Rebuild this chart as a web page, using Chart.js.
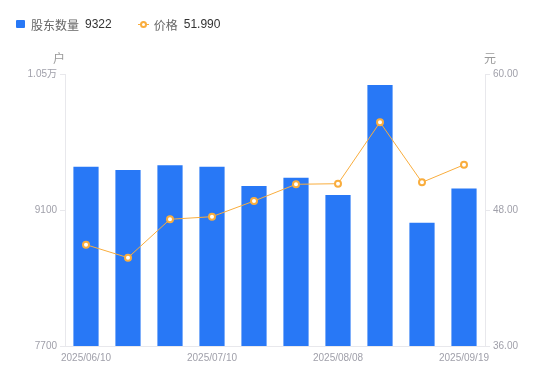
<!DOCTYPE html>
<html>
<head>
<meta charset="utf-8">
<script src="https://cdn.jsdelivr.net/npm/chart.js@4/dist/chart.umd.min.js"></script>
<style>
  html, body { margin: 0; padding: 0; background: #fff; }
  #wrap { position: relative; width: 550px; height: 381px; }
  #legend { position: absolute; left: 16px; top: 15px; font-family: "Liberation Sans", "Noto Sans CJK SC", sans-serif; font-size: 12px; display: flex; align-items: center; height: 18px; }
  .item { display: flex; align-items: center; margin-right: 26px; }
  .sq { width: 9px; height: 8px; background: #2878f6; border-radius: 1px; margin-right: 6px; }
  .ln { position: relative; width: 11px; height: 8px; margin-right: 5px; }
  .ln::before { content: ""; position: absolute; left: 0; right: 0; top: 3.5px; height: 1.5px; background: #f9ad3d; }
  .ln::after { content: ""; position: absolute; left: 2px; top: 0.5px; width: 3px; height: 3px; border: 2px solid #f9ad3d; border-radius: 50%; background: #fff; }
  .lab { color: #666; margin-right: 6px; }
  .val { color: #333; }
  canvas { position: absolute; left: 0; top: 0; }
</style>
</head>
<body>
<div id="wrap">
  <canvas id="c" width="550" height="381"></canvas>
  <div id="legend">
    <div class="item"><span class="sq"></span><span class="lab">股东数量</span><span class="val">9322</span></div>
    <div class="item"><span class="ln"></span><span class="lab">价格</span><span class="val">51.990</span></div>
  </div>
</div>
<script>
const categories = ["2025/06/10","2025/06/20","2025/06/30","2025/07/10","2025/07/20","2025/07/31","2025/08/08","2025/08/20","2025/08/31","2025/09/19"];
const shownLabels = ["2025/06/10","2025/07/10","2025/08/08","2025/09/19"];
const holders = [9546, 9512, 9560, 9546, 9347, 9433, 9254, 10387, 8969, 9322];
const prices = [44.94, 43.79, 47.18, 47.41, 48.79, 50.27, 50.32, 55.74, 50.44, 51.99];
const leftTicks = [7700, 9100, 10500];
const rightTicks = [36, 48, 60];
const leftUnit = "户";
const rightUnit = "元";

const tickFont = { family: "'Liberation Sans', 'Noto Sans CJK SC', sans-serif", size: 10 };
const tickColor = "#a0a0aa";
const lineCol = "#e8e8ec";

const unitPlugin = {
  id: 'units',
  afterDraw(chart) {
    const ctx = chart.ctx;
    const a = chart.chartArea;
    ctx.save();
    ctx.font = "12px 'Noto Sans CJK SC', sans-serif";
    ctx.fillStyle = "#999";
    ctx.textAlign = "center";
    ctx.textBaseline = "middle";
    ctx.fillText(leftUnit, a.left - 6, a.top - 16);
    ctx.fillText(rightUnit, a.right + 5, a.top - 16);
    ctx.restore();
  }
};

new Chart(document.getElementById('c'), {
  data: {
    labels: categories,
    datasets: [
      {
        type: 'line', label: '价格', data: prices, yAxisID: 'y1', order: 0,
        borderColor: '#f9ad3d', borderWidth: 1, tension: 0,
        pointRadius: 3, pointBorderWidth: 2, pointBackgroundColor: '#fff', pointBorderColor: '#f9ad3d'
      },
      {
        type: 'bar', label: '股东数量', data: holders, yAxisID: 'y', order: 1,
        backgroundColor: '#2878f6', barPercentage: 0.6, categoryPercentage: 1
      }
    ]
  },
  options: {
    responsive: false, animation: false,
    layout: { padding: { top: 74, left: 0, right: 0, bottom: 0 } },
    plugins: { legend: { display: false }, tooltip: { enabled: false } },
    scales: {
      x: {
        offset: true,
        grid: { display: true, drawOnChartArea: false, drawTicks: false, tickLength: 0 },
        border: { display: true, color: lineCol },
        ticks: {
          font: tickFont, color: tickColor, padding: 6, autoSkip: false, maxRotation: 0,
          callback: function(v, i) { const l = categories[i]; return shownLabels.includes(l) ? l : ''; }
        },
        afterFit(s) { s.height = 35; }
      },
      y: {
        position: 'left', min: 7700, max: 10500,
        grid: { drawOnChartArea: false, tickLength: 5, color: lineCol },
        border: { display: true, color: lineCol },
        afterBuildTicks(s) { s.ticks = leftTicks.map(v => ({ value: v })); },
        ticks: {
          font: tickFont, color: tickColor, padding: 3,
          callback: v => v >= 10000 ? (v / 10000).toFixed(2) + '万' : String(v)
        },
        afterFit(s) { s.width = 65; }
      },
      y1: {
        position: 'right', min: 36, max: 60,
        grid: { drawOnChartArea: false, tickLength: 5, color: lineCol },
        border: { display: true, color: lineCol },
        afterBuildTicks(s) { s.ticks = rightTicks.map(v => ({ value: v })); },
        ticks: { font: tickFont, color: tickColor, padding: 3, callback: v => Number(v).toFixed(2) },
        afterFit(s) { s.width = 65; }
      }
    }
  },
  plugins: [unitPlugin]
});
</script>
</body>
</html>
